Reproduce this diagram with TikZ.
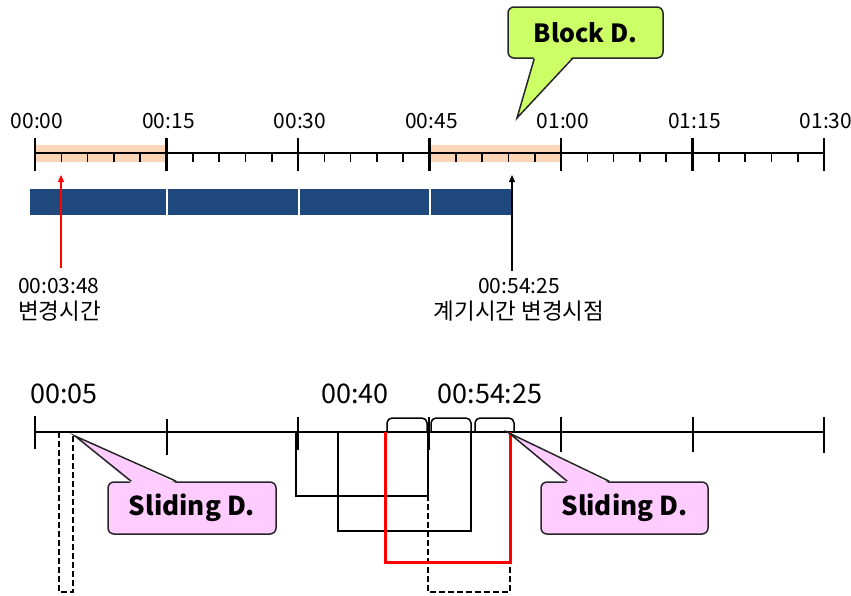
\documentclass[tikz,border=0pt]{standalone}
\usepackage{fontspec}
\setmainfont{Noto Sans CJK KR}
\usetikzlibrary{arrows.meta,calc}
\definecolor{peach}{HTML}{FBD5B5}
\definecolor{navy}{HTML}{1F497D}
\definecolor{limec}{HTML}{CCFF66}
\definecolor{pinkc}{HTML}{FFCCFF}
\tikzset{
  tlbl/.style={font=\fontsize{21}{24}\selectfont, inner sep=0pt},
  klbl/.style={font=\fontsize{22.5}{26}\selectfont, inner sep=0pt},
  blbl/.style={font=\fontsize{27}{32}\selectfont, inner sep=0pt},
  bar/.style={fill=navy, inner sep=0pt, anchor=north west, minimum height=26pt},
  callbox/.style={draw=black!85, line width=1.5pt, rounded corners=6pt, minimum height=52pt, inner sep=0pt, font=\bfseries\fontsize{26}{30}\selectfont},
  callptr/.style={draw=black!85, line width=1.5pt, line join=miter},
  axisT/.style={line width=2pt},
  majT/.style={line width=2.2pt},
  minT/.style={line width=1.6pt},
  axisB/.style={line width=1.5pt},
  brk/.style={line width=1.2pt},
  dbrk/.style={line width=1.2pt, dash pattern=on 6pt off 3pt},
  arr/.style={line width=1.2pt, -{Triangle[length=7pt,width=6pt]}},
}
\begin{document}
\begin{tikzpicture}[x=1pt,y=-1pt]
\useasboundingbox (0,0) rectangle (851,595);
% ---------- top axis ----------
\fill[peach] (35,145) rectangle (166,162);
\fill[peach] (430,145) rectangle (561,162);
\draw[axisT] (35,153) -- (824,153);
\foreach \i in {0,...,6} \draw[majT] ({35+131.5*\i},138) -- ({35+131.5*\i},171);
\foreach \i in {1,...,29} {
  \pgfmathtruncatemacro{\r}{mod(\i,5)}
  \ifnum\r=0\relax\else
    \draw[minT] ({35+26.3*\i},153) -- ({35+26.3*\i},162);
  \fi
}
\foreach \lab [count=\i from 0] in {00:00,00:15,00:30,00:45,01:00,01:15,01:30}
  \node[tlbl, anchor=base] (t\i) at ({37+131.5*\i},128) {\lab};
% ---------- blue bars ----------
\node[bar, minimum width=136pt] (b1) at (30,189) {};
\node[bar, minimum width=130pt] (b2) at (168,189) {};
\node[bar, minimum width=129pt] (b3) at (300,189) {};
\node[bar, minimum width=81pt] (b4) at (431,189) {};
% ---------- arrows and labels ----------
\node[tlbl, anchor=base west, outer sep=0pt] (chgT) at (18,293) {00:03:48};
\node[klbl, anchor=base west] (chgK) at (18,319) {변경시간};
\coordinate (redtip) at (61,175);
\coordinate (redtail) at (61,268);
\draw[arr, red] (redtail) -- (redtip);
\node[tlbl, anchor=base, outer sep=7pt] (metT) at (519,293) {00:54:25};
\node[klbl, anchor=base] (metK) at (519,319) {계기시간 변경시점};
\coordinate (blacktip) at (512,175);
\draw[arr, black] (metT.north -| blacktip) -- (blacktip);
% ---------- bottom axis ----------
\node[blbl, anchor=base] (l05) at (64,403) {00:05};
\node[blbl, anchor=base] (l40) at (355,403) {00:40};
\node[blbl, anchor=base] (l54) at (490,403) {00:54:25};
\draw[axisB] (35,432) -- (824,432);
\draw[axisB] (35,416) -- (35,449);
\draw[axisB] (167,419) -- (167,455);
\draw[axisB] (298,417) -- (298,450);
\draw[axisB] (429,417) -- (429,450);
\draw[axisB] (561,417) -- (561,452);
\draw[axisB] (693,417) -- (693,452);
\draw[axisB] (824,417) -- (824,453);
% bumps
\draw[axisB, rounded corners=5pt] (387,432) -- (387,418) -- (427,418) -- (427,432);
\draw[axisB, rounded corners=5pt] (431,432) -- (431,418) -- (471,418) -- (471,432);
\draw[axisB, rounded corners=5pt] (475,432) -- (475,418) -- (514,418) -- (514,432);
% brackets
\draw[brk] (296,432) -- (296,496) -- (428,496) -- (428,432);
\draw[brk] (338,432) -- (338,531) -- (471,531) -- (471,432);
\draw[dbrk] (428,432) -- (428,592) -- (510,592) -- (510,432);
\draw[dbrk] (59,432) -- (59,592) -- (73,592) -- (73,432);
\draw[red, line width=3pt] (385,432) -- (385,562) -- (510,562) -- (510,432);
% ---------- callouts ----------
\node[callbox, fill=limec, minimum width=155pt, font=\bfseries\fontsize{25}{30}\selectfont, minimum height=51pt] (blk) at (585.5,32.5) {Block D.};
\coordinate (blkTip) at (517,118);
\fill[limec] ($(blk.south west)+(27,-2)$) -- (blkTip) -- ($(blk.south west)+(65,-2)$) -- cycle;
\draw[callptr] ($(blk.south west)+(27,0)$) -- (blkTip) -- ($(blk.south west)+(65,0)$);

\node[callbox, fill=pinkc, minimum width=168pt] (sl1) at (192,508) {Sliding D.};
\coordinate (sl1Tip) at (75,436);
\fill[pinkc] ($(sl1.north west)+(24,2)$) -- (sl1Tip) -- ($(sl1.north west)+(69,2)$) -- cycle;
\draw[callptr] ($(sl1.north west)+(24,0)$) -- (sl1Tip) -- ($(sl1.north west)+(69,0)$);

\node[callbox, fill=pinkc, minimum width=167pt] (sl2) at (624.5,508) {Sliding D.};
\coordinate (sl2Tip) at (509,433);
\fill[pinkc] ($(sl2.north west)+(27,2)$) -- (sl2Tip) -- ($(sl2.north west)+(69,2)$) -- cycle;
\draw[callptr] ($(sl2.north west)+(27,0)$) -- (sl2Tip) -- ($(sl2.north west)+(69,0)$);
\end{tikzpicture}
\end{document}
